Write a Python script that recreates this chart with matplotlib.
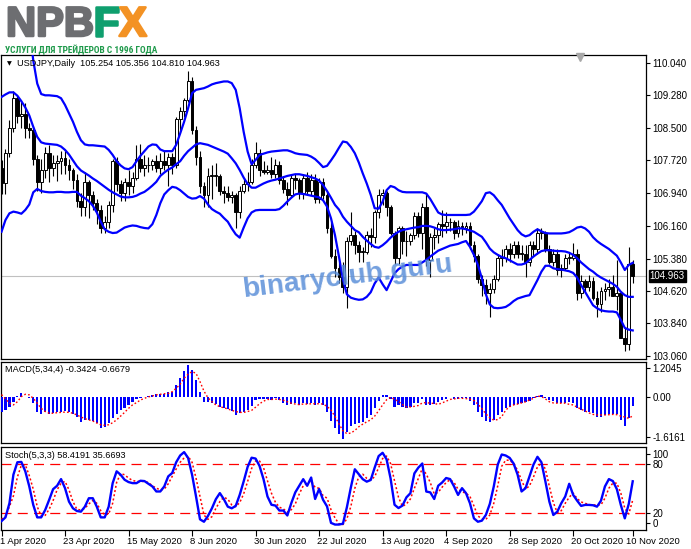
import os
import numpy as np
import matplotlib
matplotlib.use("Agg")
import matplotlib.pyplot as plt
import matplotlib.font_manager as fm
import matplotlib.patheffects as pe
from matplotlib import transforms

# ---------------- data (USDJPY daily, 1 Apr - 10 Nov 2020) ----------------
date_labels = ["1 Apr 2020", "23 Apr 2020", "15 May 2020", "8 Jun 2020", "30 Jun 2020",
               "22 Jul 2020", "13 Aug 2020", "4 Sep 2020", "28 Sep 2020", "20 Oct 2020",
               "10 Nov 2020"]
date_bars = [0, 16, 32, 48, 64, 80, 96, 112, 128, 144, 159]

opens = [107.53, 107.17, 107.90, 108.48, 109.20, 108.78, 108.82, 108.50, 108.45, 107.75,
         107.20, 107.50, 107.90, 107.55, 107.65, 107.70, 107.78, 107.60, 107.50, 107.25,
         106.75, 106.60, 107.20, 106.90, 106.70, 106.55, 106.10, 106.25, 106.65, 107.70,
         107.15, 106.95, 107.20, 107.10, 107.30, 107.75, 107.55, 107.60, 107.60, 107.70,
         107.55, 107.70, 107.60, 107.80, 107.60, 108.70, 108.90, 109.15, 109.60, 108.45,
         107.80, 107.10, 106.90, 107.35, 107.35, 107.35, 107.00, 106.95, 106.85, 106.90,
         106.50, 107.00, 107.15, 107.20, 107.60, 107.90, 107.50, 107.45, 107.50, 107.40,
         107.60, 107.25, 107.05, 106.90, 107.30, 107.25, 106.95, 107.30, 107.00, 107.25,
         106.80, 107.20, 106.90, 106.10, 105.45, 105.15, 104.95, 104.70, 105.80, 105.95,
         105.70, 105.55, 105.55, 105.95, 105.90, 106.50, 106.90, 106.95, 106.60, 106.00,
         105.40, 106.10, 105.80, 105.80, 105.95, 106.40, 106.00, 106.60, 105.35, 105.90,
         105.95, 106.20, 106.15, 106.25, 106.25, 106.00, 106.15, 106.10, 106.15, 105.70,
         105.45, 104.90, 104.75, 104.55, 104.65, 104.90, 105.40, 105.40, 105.60, 105.50,
         105.70, 105.50, 105.50, 105.30, 105.70, 105.60, 106.00, 106.00, 105.60, 105.30,
         105.50, 105.10, 105.15, 105.40, 105.40, 105.50, 104.55, 104.85, 104.70, 104.85,
         104.45, 104.30, 104.60, 104.65, 104.70, 104.50, 104.55, 103.50, 103.35, 105.254]
highs = [107.72, 108.00, 108.68, 109.38, 109.25, 109.10, 109.08, 108.60, 108.55, 107.85,
         107.75, 108.05, 108.08, 107.85, 107.85, 107.95, 107.95, 107.75, 107.55, 107.40,
         106.95, 107.45, 107.25, 107.00, 106.80, 106.65, 106.40, 106.75, 107.75, 107.80,
         107.25, 107.30, 107.50, 107.45, 108.08, 108.10, 107.85, 107.80, 107.75, 107.85,
         107.90, 107.95, 107.90, 107.90, 108.75, 109.00, 109.20, 109.85, 109.70, 108.55,
         107.95, 107.20, 107.55, 107.60, 107.65, 107.40, 107.10, 107.10, 107.00, 106.95,
         107.10, 107.30, 107.45, 107.75, 108.15, 108.00, 107.70, 107.60, 107.80, 107.75,
         107.70, 107.35, 107.20, 107.40, 107.40, 107.30, 107.40, 107.45, 107.40, 107.40,
         107.30, 107.30, 107.00, 106.25, 105.60, 105.30, 105.30, 105.90, 106.50, 106.05,
         105.80, 105.65, 106.05, 106.10, 106.55, 107.05, 107.05, 107.00, 106.65, 106.05,
         106.15, 106.15, 106.05, 106.00, 106.50, 106.50, 106.70, 106.95, 106.00, 106.10,
         106.25, 106.55, 106.50, 106.35, 106.30, 106.30, 106.25, 106.25, 106.25, 105.80,
         105.50, 105.00, 104.90, 104.80, 105.00, 105.50, 105.60, 105.70, 105.75, 105.80,
         105.80, 105.70, 105.70, 105.80, 105.80, 106.10, 106.10, 106.05, 105.70, 105.60,
         105.60, 105.25, 105.50, 105.55, 105.75, 105.60, 105.00, 104.90, 105.00, 104.95,
         104.60, 104.70, 104.80, 104.90, 105.00, 105.35, 104.60, 103.75, 105.65, 105.356]
lows = [106.92, 106.92, 107.80, 108.40, 108.60, 108.50, 108.25, 108.25, 107.60, 107.00,
        106.95, 107.30, 107.20, 107.35, 107.22, 107.40, 107.40, 107.25, 107.05, 106.60,
        106.40, 106.40, 106.35, 106.55, 106.20, 106.00, 105.98, 106.10, 106.50, 107.00,
        106.75, 106.75, 106.90, 106.95, 107.25, 107.45, 107.35, 107.45, 107.50, 107.45,
        107.40, 107.50, 107.10, 107.40, 107.55, 108.40, 108.75, 109.10, 108.35, 107.60,
        106.95, 106.60, 106.60, 106.80, 107.10, 106.90, 106.70, 106.75, 106.70, 106.10,
        106.35, 106.95, 107.00, 107.15, 107.55, 107.35, 107.40, 107.40, 107.30, 107.30,
        107.15, 106.95, 106.65, 106.85, 107.05, 106.80, 106.80, 106.90, 106.90, 106.70,
        106.70, 106.80, 106.00, 105.40, 104.95, 104.80, 104.55, 104.20, 105.70, 105.50,
        105.30, 105.30, 105.50, 105.65, 105.75, 106.35, 106.65, 106.40, 105.95, 105.25,
        105.25, 105.50, 105.45, 105.70, 105.85, 105.90, 105.60, 105.20, 104.95, 105.60,
        105.75, 105.90, 106.00, 106.05, 105.85, 105.90, 105.95, 106.00, 105.60, 105.30,
        104.80, 104.50, 104.30, 104.00, 104.55, 104.85, 105.20, 105.30, 105.30, 105.40,
        105.40, 105.35, 104.95, 105.20, 105.45, 105.50, 105.85, 105.55, 105.25, 105.20,
        105.00, 104.95, 105.10, 105.25, 105.35, 104.40, 104.45, 104.60, 104.60, 104.40,
        104.00, 104.10, 104.40, 104.50, 104.50, 104.15, 103.50, 103.18, 103.20, 104.810]
closes = [107.17, 107.90, 108.48, 109.20, 108.78, 108.82, 108.50, 108.45, 107.75, 107.20,
          107.50, 107.90, 107.55, 107.65, 107.70, 107.78, 107.60, 107.50, 107.25, 106.75,
          106.60, 107.20, 106.90, 106.70, 106.55, 106.10, 106.25, 106.65, 107.70, 107.15,
          106.95, 107.20, 107.10, 107.30, 107.75, 107.55, 107.60, 107.60, 107.70, 107.55,
          107.70, 107.60, 107.80, 107.60, 108.70, 108.90, 109.15, 109.60, 108.45, 107.80,
          107.10, 106.90, 107.35, 107.35, 107.35, 107.00, 106.95, 106.85, 106.90, 106.50,
          107.00, 107.15, 107.20, 107.60, 107.90, 107.50, 107.45, 107.50, 107.40, 107.60,
          107.25, 107.05, 106.90, 107.30, 107.25, 106.95, 107.30, 107.00, 107.25, 106.80,
          107.20, 106.90, 106.10, 105.45, 105.15, 104.95, 104.70, 105.80, 105.95, 105.70,
          105.55, 105.55, 105.95, 105.90, 106.50, 106.90, 106.95, 106.60, 106.00, 105.40,
          106.10, 105.80, 105.80, 105.95, 106.40, 106.00, 106.60, 105.35, 105.90, 105.95,
          106.20, 106.15, 106.25, 106.25, 106.00, 106.15, 106.10, 106.15, 105.70, 105.45,
          104.90, 104.75, 104.55, 104.65, 104.90, 105.40, 105.40, 105.60, 105.50, 105.70,
          105.50, 105.50, 105.30, 105.70, 105.60, 106.00, 106.00, 105.60, 105.30, 105.50,
          105.10, 105.15, 105.40, 105.40, 105.50, 104.55, 104.85, 104.70, 104.85, 104.45,
          104.30, 104.60, 104.65, 104.70, 104.50, 104.55, 103.50, 103.35, 105.25, 104.963]

bb_upper = [112.44, 112.28, 112.22, 112.18, 112.04, 111.81, 111.42, 110.91, 110.10, 109.55,
            109.30, 109.27, 109.27, 109.26, 109.25, 109.20, 109.04, 108.84, 108.64, 108.40,
            108.20, 108.10, 108.08, 108.08, 108.07, 108.06, 108.05, 107.97, 107.85, 107.70,
            107.60, 107.53, 107.51, 107.56, 107.70, 107.83, 107.94, 108.05, 108.10, 108.09,
            107.98, 107.94, 107.94, 107.94, 108.09, 108.36, 108.64, 108.96, 109.32, 109.40,
            109.42, 109.44, 109.48, 109.53, 109.56, 109.58, 109.60, 109.60, 109.56, 109.40,
            108.96, 108.40, 107.93, 107.63, 107.73, 107.85, 107.88, 107.91, 107.93, 107.94,
            107.95, 107.96, 107.96, 107.93, 107.89, 107.87, 107.86, 107.85, 107.81, 107.75,
            107.66, 107.56, 107.59, 107.72, 107.86, 108.02, 108.17, 108.15, 108.04, 107.89,
            107.67, 107.41, 107.17, 106.90, 106.58, 106.57, 106.74, 107.01, 107.11, 107.08,
            107.01, 106.97, 106.96, 106.96, 106.96, 106.96, 106.96, 106.93, 106.80, 106.64,
            106.48, 106.43, 106.42, 106.42, 106.42, 106.42, 106.42, 106.42, 106.43, 106.50,
            106.62, 106.75, 106.94, 106.96, 106.89, 106.77, 106.66, 106.50, 106.34, 106.20,
            106.06, 105.96, 105.91, 105.94, 106.02, 106.08, 106.03, 105.99, 105.98, 105.98,
            105.98, 105.98, 105.99, 106.01, 106.06, 106.12, 106.14, 106.10, 106.02, 105.89,
            105.80, 105.73, 105.67, 105.61, 105.53, 105.45, 105.29, 105.11, 105.23, 105.28]
bb_mid = [109.23, 109.29, 109.34, 109.34, 109.26, 109.13, 108.98, 108.79, 108.52, 108.28,
          108.15, 108.12, 108.11, 108.10, 108.09, 108.05, 107.97, 107.86, 107.72, 107.58,
          107.48, 107.42, 107.36, 107.29, 107.23, 107.16, 107.09, 107.02, 106.96, 106.91,
          106.86, 106.84, 106.84, 106.85, 106.88, 106.93, 106.97, 107.04, 107.12, 107.21,
          107.35, 107.43, 107.50, 107.55, 107.63, 107.70, 107.83, 107.94, 108.02, 108.10,
          108.13, 108.11, 108.09, 108.05, 108.01, 107.97, 107.93, 107.88, 107.77, 107.65,
          107.49, 107.31, 107.16, 107.07, 107.07, 107.12, 107.17, 107.21, 107.24, 107.26,
          107.29, 107.32, 107.35, 107.37, 107.39, 107.39, 107.37, 107.35, 107.32, 107.29,
          107.24, 107.13, 106.99, 106.83, 106.66, 106.55, 106.38, 106.26, 106.16, 106.06,
          106.01, 105.90, 105.81, 105.73, 105.66, 105.64, 105.70, 105.78, 105.88, 105.96,
          106.02, 106.06, 106.08, 106.10, 106.12, 106.13, 106.16, 106.16, 106.15, 106.12,
          106.08, 106.06, 106.06, 106.07, 106.08, 106.10, 106.10, 106.08, 106.05, 106.02,
          105.96, 105.90, 105.77, 105.62, 105.53, 105.47, 105.42, 105.39, 105.34, 105.29,
          105.24, 105.24, 105.27, 105.35, 105.43, 105.50, 105.56, 105.58, 105.58, 105.57,
          105.56, 105.56, 105.55, 105.52, 105.47, 105.39, 105.29, 105.21, 105.13, 105.07,
          104.99, 104.93, 104.88, 104.83, 104.78, 104.71, 104.59, 104.51, 104.47, 104.47]
bb_lower = [106.02, 106.30, 106.46, 106.50, 106.48, 106.45, 106.54, 106.67, 106.96, 107.04,
            106.99, 106.97, 106.96, 106.96, 106.97, 106.97, 106.96, 106.96, 106.97, 106.97,
            106.88, 106.82, 106.75, 106.64, 106.48, 106.26, 106.08, 106.02, 105.99, 106.00,
            106.06, 106.12, 106.15, 106.17, 106.16, 106.13, 106.11, 106.10, 106.20, 106.42,
            106.70, 106.91, 107.01, 107.09, 107.07, 107.01, 106.93, 106.85, 106.81, 106.82,
            106.87, 106.81, 106.67, 106.56, 106.50, 106.45, 106.35, 106.26, 106.10, 105.96,
            105.88, 106.12, 106.34, 106.48, 106.53, 106.54, 106.54, 106.54, 106.54, 106.54,
            106.56, 106.64, 106.74, 106.83, 106.91, 106.93, 106.92, 106.90, 106.88, 106.86,
            106.84, 106.77, 106.62, 106.34, 105.94, 105.43, 104.89, 104.53, 104.45, 104.42,
            104.40, 104.41, 104.47, 104.58, 104.79, 104.93, 104.77, 104.63, 104.83, 105.03,
            105.13, 105.19, 105.23, 105.23, 105.23, 105.23, 105.29, 105.35, 105.43, 105.50,
            105.57, 105.61, 105.65, 105.69, 105.71, 105.73, 105.77, 105.80, 105.66, 105.47,
            105.23, 104.91, 104.53, 104.29, 104.21, 104.20, 104.21, 104.23, 104.29, 104.37,
            104.43, 104.46, 104.49, 104.51, 104.69, 104.87, 105.07, 105.21, 105.21, 105.15,
            105.13, 105.12, 105.10, 105.08, 105.04, 104.93, 104.75, 104.59, 104.43, 104.27,
            104.20, 104.15, 104.13, 104.12, 104.12, 104.10, 103.92, 103.73, 103.69, 103.67]

macd_hist = [-0.52, -0.47, -0.35, -0.18, 0.03, 0.11, 0.00, -0.06, -0.23, -0.52,
             -0.62, -0.55, -0.62, -0.58, -0.55, -0.52, -0.50, -0.55, -0.62, -0.70,
             -0.87, -0.81, -0.81, -0.85, -0.93, -1.08, -1.05, -0.93, -0.76, -0.62,
             -0.47, -0.39, -0.29, -0.18, -0.08, -0.04, 0.00, 0.03, 0.06, 0.08,
             0.08, 0.10, 0.15, 0.15, 0.40, 0.64, 0.89, 1.10, 0.93, 0.58,
             0.17, -0.18, -0.18, -0.23, -0.27, -0.35, -0.41, -0.43, -0.50, -0.64,
             -0.58, -0.55, -0.47, -0.32, -0.12, -0.10, -0.10, -0.09, -0.11, -0.06,
             -0.12, -0.21, -0.31, -0.26, -0.24, -0.30, -0.23, -0.26, -0.21, -0.30,
             -0.24, -0.28, -0.52, -0.84, -1.11, -1.31, -1.48, -1.25, -1.04, -0.96,
             -0.93, -0.90, -0.74, -0.65, -0.41, -0.14, 0.04, 0.06, -0.09, -0.35,
             -0.31, -0.37, -0.40, -0.37, -0.22, -0.23, -0.07, -0.31, -0.30, -0.27,
             -0.18, -0.13, -0.07, -0.03, -0.08, -0.07, -0.06, -0.05, -0.16, -0.30,
             -0.53, -0.70, -0.85, -0.89, -0.83, -0.64, -0.55, -0.39, -0.35, -0.29,
             -0.27, -0.23, -0.18, -0.14, -0.06, 0.03, 0.06, -0.04, -0.12, -0.15,
             -0.23, -0.23, -0.21, -0.20, -0.23, -0.41, -0.47, -0.52, -0.55, -0.58,
             -0.70, -0.70, -0.64, -0.62, -0.62, -0.62, -0.81, -1.01, -0.76, -0.3424]
macd_signal = [0.07, -0.08, -0.23, -0.29, -0.18, 0.00, 0.08, 0.06, -0.06, -0.23,
               -0.41, -0.52, -0.58, -0.58, -0.56, -0.55, -0.54, -0.55, -0.58, -0.64,
               -0.71, -0.77, -0.81, -0.85, -0.92, -0.98, -1.00, -0.98, -0.91, -0.81,
               -0.68, -0.55, -0.41, -0.29, -0.21, -0.12, -0.06, -0.01, 0.02, 0.06,
               0.08, 0.10, 0.11, 0.17, 0.29, 0.43, 0.64, 0.78, 0.87, 0.81,
               0.52, 0.19, -0.04, -0.18, -0.29, -0.35, -0.39, -0.43, -0.48, -0.52,
               -0.55, -0.55, -0.52, -0.48, -0.37, -0.25, -0.16, -0.10, -0.10, -0.09,
               -0.10, -0.13, -0.18, -0.23, -0.26, -0.28, -0.26, -0.26, -0.25, -0.25,
               -0.25, -0.26, -0.34, -0.47, -0.69, -0.95, -1.19, -1.29, -1.27, -1.18,
               -1.05, -0.96, -0.88, -0.81, -0.68, -0.49, -0.29, -0.11, -0.03, -0.09,
               -0.17, -0.28, -0.36, -0.36, -0.34, -0.31, -0.22, -0.21, -0.23, -0.24,
               -0.27, -0.22, -0.16, -0.10, -0.08, -0.06, -0.06, -0.07, -0.09, -0.14,
               -0.26, -0.42, -0.60, -0.74, -0.82, -0.80, -0.70, -0.47, -0.35, -0.29,
               -0.26, -0.22, -0.18, -0.12, -0.06, 0.02, 0.00, -0.08, -0.18, -0.22,
               -0.23, -0.23, -0.23, -0.27, -0.29, -0.37, -0.44, -0.50, -0.57, -0.62,
               -0.64, -0.64, -0.64, -0.63, -0.62, -0.63, -0.68, -0.71, -0.76, -0.6679]

stoch_k = [10.2, 14.7, 31.8, 66.5, 81.5, 81.9, 70.5, 52.2, 29.8, 14.7,
           14.7, 23.6, 35.9, 48.9, 53.0, 61.1, 50.1, 33.8, 25.7, 22.4,
           21.6, 27.7, 37.9, 37.9, 27.7, 14.7, 14.7, 27.7, 56.2, 70.5,
           66.4, 60.3, 57.5, 56.2, 56.2, 59.1, 58.7, 55.4, 52.2, 46.1,
           46.1, 52.2, 64.4, 68.5, 81.5, 89.7, 93.8, 86.8, 66.5, 40.0,
           12.3, 9.4, 16.4, 25.7, 36.8, 44.1, 36.8, 27.7, 25.7, 28.6,
           42.0, 58.3, 75.9, 87.0, 86.0, 77.0, 61.0, 40.0, 30.0, 29.0,
           23.0, 23.0, 17.0, 32.0, 45.0, 53.0, 61.0, 53.0, 63.0, 37.0,
           49.0, 36.0, 28.0, 8.0, 6.0, 6.0, 7.0, 27.0, 51.0, 73.0,
           67.0, 61.0, 58.0, 60.0, 75.0, 89.0, 93.0, 85.0, 62.0, 30.0,
           26.0, 29.0, 39.0, 44.0, 68.0, 75.0, 80.0, 46.0, 45.0, 37.0,
           53.0, 57.0, 62.4, 61.1, 52.2, 41.9, 50.1, 44.1, 31.8, 13.5,
           9.4, 10.7, 17.6, 31.0, 52.2, 78.7, 90.9, 89.7, 86.8, 79.9,
           66.5, 46.1, 50.1, 64.4, 78.7, 88.1, 81.5, 58.3, 33.8, 17.6,
           21.6, 31.8, 40.0, 55.4, 41.9, 34.9, 28.6, 29.8, 29.8, 29.4,
           27.7, 34.9, 52.2, 61.1, 58.7, 48.9, 29.8, 13.5, 31.0, 58.4191]
stoch_d = [12.2, 16.3, 27.7, 40.7, 63.6, 77.9, 78.3, 65.3, 48.9, 27.7,
           16.3, 17.1, 24.5, 35.1, 48.1, 56.2, 58.3, 48.1, 33.8, 24.5,
           23.6, 25.7, 31.0, 35.1, 31.8, 22.8, 17.6, 18.8, 31.8, 57.1,
           67.7, 66.4, 62.3, 59.5, 58.3, 58.3, 58.3, 57.0, 53.0, 50.1,
           48.1, 48.9, 55.4, 64.4, 73.4, 81.5, 86.8, 88.9, 81.5, 62.3,
           40.0, 17.6, 12.3, 15.5, 25.7, 33.8, 39.1, 36.8, 29.8, 27.7,
           32.6, 43.2, 58.3, 74.0, 83.0, 83.0, 75.0, 59.0, 44.0, 33.0,
           27.0, 25.0, 21.0, 24.0, 31.0, 43.0, 53.0, 56.0, 59.0, 51.0,
           50.0, 41.0, 38.0, 24.0, 14.0, 7.0, 6.0, 13.0, 28.0, 50.0,
           64.0, 67.0, 62.0, 60.0, 64.0, 75.0, 86.0, 89.0, 80.0, 59.0,
           39.0, 28.0, 31.0, 37.0, 50.0, 62.0, 74.0, 67.0, 57.0, 43.0,
           45.0, 51.4, 57.0, 60.3, 57.0, 48.9, 45.6, 44.1, 40.0, 28.6,
           16.3, 13.1, 12.3, 17.6, 31.8, 53.0, 76.7, 84.0, 84.0, 79.9,
           71.8, 59.5, 48.9, 53.0, 63.6, 75.9, 80.7, 73.4, 52.2, 32.6,
           20.4, 22.8, 31.8, 39.1, 44.1, 37.5, 33.4, 31.8, 30.1, 29.8,
           29.8, 29.8, 38.0, 50.1, 56.2, 56.2, 44.1, 25.7, 18.8, 35.6693]

price_ticks = [110.040, 109.280, 108.500, 107.720, 106.940, 106.160, 105.380, 104.620, 103.840, 103.060]
last_price = 104.963
header = "USDJPY,Daily  105.254 105.356 104.810 104.963"
macd_title = "MACD(5,34,4) -0.3424 -0.6679"
stoch_title = "Stoch(5,3,3) 58.4191 35.6693"
slogan = "УСЛУГИ ДЛЯ ТРЕЙДЕРОВ С 1996 ГОДА"

# ---------------- layout (pixel based, like the terminal window) ----------------
W, H = 691, 549
fig = plt.figure(figsize=(W / 100, H / 100), dpi=100)
fig.patch.set_facecolor("white")
FONT = ["Liberation Sans", "DejaVu Sans"]


def panel(top, bottom, left=0.5, right=645.5):
    return fig.add_axes([left / W, 1 - bottom / H, (right - left) / W, (bottom - top) / H])


ax = panel(55, 359)
axm = panel(362, 443)
axs = panel(447, 529.5)

X0, DX = 1.5, 3.97          # pixel of first bar, pixels per bar
x = np.arange(len(closes))

for a in (ax, axm, axs):
    a.set_xlim((0.5 - X0) / DX, (645.5 - X0) / DX)
    a.set_facecolor("white")
    for s in a.spines.values():
        s.set_color("black")
        s.set_linewidth(0.9)
    a.yaxis.tick_right()
    a.tick_params(axis="y", direction="out", length=3, width=0.8, pad=2,
                  labelsize=7, colors="black")
    a.tick_params(axis="x", bottom=False, labelbottom=False)

# ---------------- main chart ----------------
ax.set_ylim(102.99, 110.23)
o, h, l, c = map(np.array, (opens, highs, lows, closes))
up = c >= o
ax.axhline(last_price, color="#c0c0c0", lw=0.8, zorder=1)
ax.vlines(x, l, h, color="black", lw=0.8, zorder=3)
body = np.maximum(np.abs(c - o), 0.012)
ax.bar(x, body, bottom=np.minimum(o, c), width=0.72,
       color=np.where(up, "white", "black"), edgecolor="black", linewidth=0.7, zorder=4)
for band in (bb_upper, bb_mid, bb_lower):
    ax.plot(x, band, color="#0000ff", lw=1.6, zorder=5)

ax.set_yticks(price_ticks)
ax.set_yticklabels([f"{v:.3f}" for v in price_ticks], fontfamily=FONT)
ax.annotate(f"{last_price:.3f}", xy=(1, last_price), xycoords=("axes fraction", "data"),
            xytext=(3, 0), textcoords="offset points", va="center", ha="left",
            fontsize=7, color="white", family=FONT, annotation_clip=False,
            bbox=dict(boxstyle="square,pad=0.12", fc="black", ec="black"))
ax.plot([(580 - 0.5) / 645], [0.992], marker="v", ms=6, color="#a8a8a8",
        transform=ax.transAxes, clip_on=False, zorder=6)

wm = ax.text(0.538, 0.27, "binaryclub.guru", transform=ax.transAxes, fontsize=21,
             fontweight="bold", family=FONT, color="#5b8fd9", alpha=0.85,
             rotation=7, ha="center", va="center", zorder=10)

# ---------------- MACD ----------------
m_top, m_bot = 1.2045, -1.6161
axm.set_ylim(m_bot, m_top)
axm.bar(x, macd_hist, width=0.55, color="#0000ff", zorder=3)
axm.plot(x, macd_signal, color="red", lw=1.0, ls=(0, (1.2, 1.6)), zorder=4)
inset = (m_top - m_bot) * 6 / 81
axm.set_yticks([m_top - inset, 0, m_bot + inset])
axm.set_yticklabels(["1.2045", "0.00", "-1.6161"], fontfamily=FONT)

# ---------------- Stochastic ----------------
axs.set_ylim(0, 100)
axs.axhline(80, color="red", lw=0.9, ls=(0, (8, 5)), zorder=2)
axs.axhline(20, color="red", lw=0.9, ls=(0, (8, 5)), zorder=2)
axs.plot(x, stoch_d, color="red", lw=1.1, ls=(0, (1.3, 1.5)), zorder=3)
axs.plot(x, stoch_k, color="#0000ff", lw=1.7, zorder=4)
s_in = 100 * 6.5 / 82.5
axs.set_yticks([100 - s_in, 80, 20, s_in])
axs.set_yticklabels(["100", "80", "20", "0"], fontfamily=FONT)

axs.set_xticks(date_bars)
axs.set_xticklabels(date_labels, fontfamily=FONT)
axs.tick_params(axis="x", bottom=True, labelbottom=True, direction="out", length=4,
                width=0.8, pad=1.5, labelsize=6.8, colors="black")
for i, lab in enumerate(axs.get_xticklabels()):
    lab.set_horizontalalignment("left")
    shift = -7 if i == len(date_labels) - 1 else -2
    lab.set_transform(lab.get_transform() +
                      transforms.ScaledTranslation(shift / 100, 0, fig.dpi_scale_trans))


# ---------------- texts ----------------
def ptext(px, py, s, **kw):
    return fig.text(px / W, 1 - py / H, s, **kw)


ptext(9, 63.5, "\u25bc", fontsize=4.5, ha="center", va="center", family="DejaVu Sans")
ptext(17, 63.5, header, fontsize=6.6, va="center", family=FONT)
ptext(5, 369.5, macd_title, fontsize=6.6, va="center", family=FONT)
ptext(5, 455.5, stoch_title, fontsize=6.6, va="center", family=FONT)

# logo
r = fig.canvas.get_renderer()
xpos = 6
for part, col in (("NPB", "#6d6e71"), ("F", "#0f9f6e"), ("X", "#f39224")):
    t = fig.text(xpos / W, 1 - 36 / H, part, fontsize=30, fontweight="bold", family=FONT,
                 color=col, va="baseline",
                 path_effects=[pe.withStroke(linewidth=1.8, foreground=col)])
    xpos = t.get_window_extent(r).x1


def condensed_bold():
    names = ["NotoSans-ExtraCondensedBold", "NotoSans-CondensedBold", "RobotoCondensed-Bold",
             "OpenSans-CondensedBold", "LiberationSansNarrow-Bold", "DejaVuSansCondensed-Bold",
             "NotoSans-SemiCondensedBold"]
    files = sorted({f.fname for f in fm.fontManager.ttflist})
    for n in names:
        for fn in files:
            if os.path.basename(fn).lower().startswith(n.lower()):
                return fm.FontProperties(fname=fn)
    return fm.FontProperties(family=FONT, weight="bold")


fp = condensed_bold()
fp.set_size(8)
sub = ptext(5, 53, slogan, fontproperties=fp, color="#1f9a4b", va="baseline")
bw = sub.get_window_extent(r).width
fp2 = fp.copy()
fp2.set_size(8 * 153 / bw)
sub.set_fontproperties(fp2)

bw = wm.get_window_extent(r).width
wm.set_fontsize(21 * 214 / bw * np.cos(np.radians(7)))

fig.savefig("out.png", dpi=100, facecolor="white")
